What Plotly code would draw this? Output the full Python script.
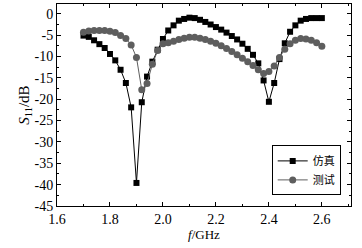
import plotly.graph_objects as go

freq = [1.70, 1.72, 1.74, 1.76, 1.78, 1.80, 1.82, 1.84, 1.86, 1.88,
        1.90, 1.92, 1.94, 1.96, 1.98, 2.00, 2.02, 2.04, 2.06, 2.08,
        2.10, 2.12, 2.14, 2.16, 2.18, 2.20, 2.22, 2.24, 2.26, 2.28,
        2.30, 2.32, 2.34, 2.36, 2.38, 2.40, 2.42, 2.44, 2.46, 2.48,
        2.50, 2.52, 2.54, 2.56, 2.58, 2.60]

sim = [-5.1, -5.4, -6.2, -7.1, -8.0, -9.4, -10.9, -13.1, -16.2, -21.9,
       -39.6, -20.7, -14.7, -11.2, -8.4, -5.9, -3.9, -2.7, -1.6, -1.2,
       -0.9, -1.0, -1.4, -1.9, -2.5, -3.1, -3.7, -4.4, -5.2, -6.0,
       -7.0, -8.2, -9.6, -11.6, -15.6, -20.6, -16.2, -10.6, -6.9, -4.2,
       -2.7, -1.6, -1.2, -1.0, -1.0, -1.0]

meas = [-4.3, -4.0, -3.9, -3.9, -3.9, -4.1, -4.4, -5.1, -5.8, -7.3,
        -10.2, -17.8, -16.3, -11.8, -8.6, -7.0, -6.8, -6.4, -6.0, -5.7,
        -5.5, -5.5, -5.7, -6.0, -6.4, -6.9, -7.5, -8.1, -8.8, -9.6,
        -10.4, -11.2, -12.1, -13.1, -14.0, -13.5, -12.2, -10.2, -8.3, -7.0,
        -6.2, -5.8, -5.9, -6.2, -6.8, -7.6]

names = ["仿真", "测试"]
x_ticks = [1.6, 1.8, 2.0, 2.2, 2.4, 2.6]
y_ticks = [0, -5, -10, -15, -20, -25, -30, -35, -40, -45]

fig = go.Figure()
fig.add_trace(go.Scatter(
    x=freq, y=sim, name=names[0], mode="lines+markers",
    line=dict(color="black", width=1),
    marker=dict(symbol="square", size=6, color="black"),
))
fig.add_trace(go.Scatter(
    x=freq, y=meas, name=names[1], mode="lines+markers",
    line=dict(color="#5e5e5e", width=1),
    marker=dict(symbol="circle", size=7, color="#5e5e5e"),
))

serif = "Liberation Serif, Times New Roman, serif"
tick_font = dict(family=serif, size=14, color="black")

fig.update_layout(
    width=362, height=248,
    margin=dict(l=57, r=11, t=4, b=42),
    paper_bgcolor="white", plot_bgcolor="white",
    font=tick_font,
    showlegend=True,
    legend=dict(
        x=0.965, y=0.30, xanchor="right", yanchor="top",
        bordercolor="black", borderwidth=1, bgcolor="white",
        font=dict(family="Noto Sans CJK SC", size=11, color="black"),
        tracegroupgap=0, itemwidth=30,
    ),
    xaxis=dict(
        range=[1.6, 2.71], tickvals=x_ticks, ticktext=[f"{v:.1f}" for v in x_ticks],
        ticks="inside", ticklen=4, tickcolor="black",
        minor=dict(dtick=0.1, ticks="inside", ticklen=2, tickcolor="black"),
        showline=True, linecolor="black", linewidth=1, mirror="ticks",
        showgrid=False, zeroline=False,
        title=dict(text="<i>f</i>/GHz", standoff=3, font=dict(family=serif, size=13, color="black")),
        tickfont=tick_font,
    ),
    yaxis=dict(
        range=[-45, 2.3], tickvals=y_ticks, ticktext=[str(v) for v in y_ticks],
        ticks="inside", ticklen=4, tickcolor="black",
        minor=dict(dtick=2.5, ticks="inside", ticklen=2, tickcolor="black"),
        showline=True, linecolor="black", linewidth=1, mirror="ticks",
        showgrid=False, zeroline=False,
        title=dict(text="<i>S</i><sub>11</sub>/dB", standoff=1, font=dict(family=serif, size=15, color="black")),
        tickfont=tick_font,
    ),
)

fig.write_html("out.html")
